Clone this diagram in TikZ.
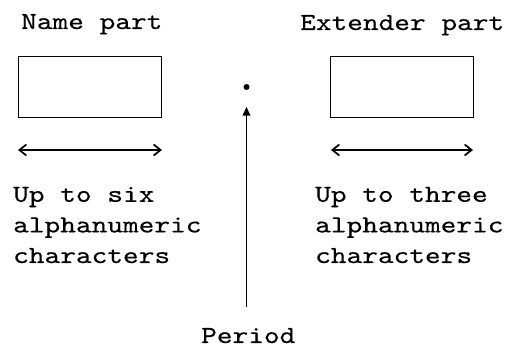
\documentclass[tikz,border=0pt]{standalone}
\usepackage{fontspec}
\newfontfamily\courfont[FakeStretch=1.22,FakeBold=0.3]{lmmono10-regular.otf}
\usetikzlibrary{arrows.meta}
\begin{document}
\begin{tikzpicture}[x=1pt,y=1pt,
  lbl/.style={font=\courfont\fontsize{24.5}{30.6}\selectfont, inner sep=0pt, anchor=base west, align=left},
  partbox/.style={draw, line width=1.8pt, minimum width=143pt, minimum height=61pt, inner sep=0pt},
  span/.style={line width=1.7pt, {Straight Barb[length=7pt,width=11pt,line width=1.7pt]}-{Straight Barb[length=7pt,width=11pt,line width=1.7pt]}},
  ptr/.style={line width=1.7pt, -{Triangle[length=9pt,width=7.5pt]}}]
\useasboundingbox (0,0) rectangle (511,347);
\node[lbl] (namelbl) at (21,318) {Name part};
\node[lbl] (extlbl) at (300,317) {Extender part};
\node[partbox] (namebox) at (90,260) {};
\node[partbox] (extbox) at (402,260) {};
\coordinate (nl) at (18,197);
\coordinate (nr) at (162,197);
\coordinate (el) at (331,197);
\coordinate (er) at (473,197);
\draw[span] (nl) -- (nr);
\draw[span] (el) -- (er);
\node[circle, fill, minimum size=6pt, inner sep=0pt] (dot) at (246.5,260) {};
\node[lbl] (namedesc) at (13,84) {Up to six\\alphanumeric\\characters};
\node[lbl] (extdesc) at (315,84) {Up to three\\alphanumeric\\characters};
\node[lbl] (period) at (201,4) {Period};
\draw[ptr, shorten <=21pt, shorten >=16.5pt] (dot.south |- period.north) -- (dot.south);
\end{tikzpicture}
\end{document}
